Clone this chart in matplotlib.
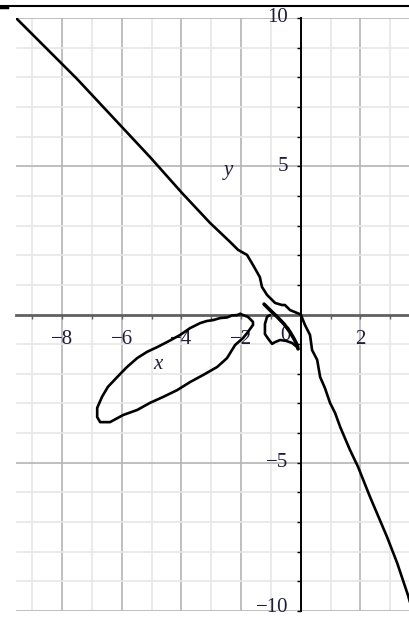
import matplotlib
matplotlib.use("Agg")
import matplotlib.pyplot as plt
from matplotlib.lines import Line2D

# ---- data ----
main_x = [-9.54, -7.5, -5.05, -3.98, -3.04, -2.37, -2.10, -1.80, -1.60, -1.37, -1.30,
          -1.13, -0.86, -0.63, -0.53, -0.36, -0.12, 0.0, 0.14, 0.31, 0.38, 0.55, 0.65,
          0.81, 0.98, 1.15, 1.32, 1.48, 1.65, 1.92, 2.32, 2.89, 3.23, 3.59, 3.70]
main_y = [10.0, 7.95, 5.31, 4.10, 3.09, 2.45, 2.18, 2.01, 1.67, 1.26, 0.93,
          0.66, 0.39, 0.32, 0.32, 0.15, 0.05, 0.0, -0.35, -0.69, -1.20, -1.53, -2.11,
          -2.48, -2.98, -3.32, -3.79, -4.17, -4.57, -5.14, -6.15, -7.50, -8.38, -9.46, -9.85]

loop_x = [-2.03, -2.13, -2.30, -2.47, -2.70, -2.94, -3.15, -3.37, -3.71, -4.04, -4.48,
          -4.81, -5.15, -5.48, -5.82, -6.15, -6.46, -6.66, -6.82, -6.82, -6.72, -6.39,
          -5.95, -5.48, -5.05, -4.61, -4.14, -3.71, -3.27, -2.80, -2.47, -2.20, -1.93,
          -1.77, -1.60, -1.60, -1.77, -2.03]
loop_y = [0.02, -0.02, -0.03, -0.10, -0.12, -0.19, -0.22, -0.29, -0.46, -0.69, -0.93,
          -1.10, -1.26, -1.47, -1.77, -2.11, -2.44, -2.78, -3.15, -3.46, -3.63, -3.63,
          -3.39, -3.22, -2.98, -2.78, -2.55, -2.28, -2.04, -1.77, -1.47, -1.03, -0.79,
          -0.59, -0.35, -0.25, -0.08, 0.02]

diag_x = [-1.23, -1.03, -0.79, -0.56, -0.36, -0.22, -0.12, -0.09]
diag_y = [0.35, 0.15, -0.08, -0.32, -0.59, -0.83, -1.03, -1.16]

small_x = [-1.03, -1.13, -1.20, -1.20, -1.06, -0.96, -0.86, -0.69, -0.49, -0.29, -0.12]
small_y = [-0.02, -0.08, -0.32, -0.66, -0.86, -0.99, -0.93, -0.86, -0.89, -0.96, -1.10]

x_tick_values = [-8, -6, -4, -2, 2]
y_tick_values = [10, 5, -5, -10]
x_grid = list(range(-9, 4))
y_grid = list(range(-10, 11))

W, H = 410, 618
fig = plt.figure(figsize=(W / 100, H / 100), dpi=100)
left, right, top, bottom = 16, 410, 18, 611
ax = fig.add_axes([left / W, (H - bottom) / H, (right - left) / W, (bottom - top) / H])
ax.set_xlim(-9.54, 3.66)
ax.set_ylim(-10, 10)
ax.set_facecolor("white")

# grid
for gx in x_grid:
    if gx == 0:
        continue
    col = "#b4b4b4" if gx % 2 == 0 else "#e6e6e6"
    ax.axvline(gx, color=col, lw=1.2, zorder=0)
for gy in y_grid:
    if gy == 0:
        continue
    col = "#b4b4b4" if gy % 5 == 0 else "#e6e6e6"
    ax.axhline(gy, color=col, lw=1.2, zorder=0)

# axes through the origin
for s in ["top", "right"]:
    ax.spines[s].set_visible(False)
ax.spines["left"].set_position(("data", 0))
ax.spines["bottom"].set_position(("data", 0))
ax.spines["left"].set_color("black")
ax.spines["left"].set_linewidth(1.4)
ax.spines["bottom"].set_color("#606060")
ax.spines["bottom"].set_linewidth(2.0)
ax.set_xticks(range(-9, 4))
ax.set_yticks(range(-10, 11))
ax.tick_params(axis="x", direction="out", length=3, width=1, color="#606060",
               labelbottom=False)
ax.tick_params(axis="y", direction="out", length=3, width=1, color="black",
               labelleft=False)

# curves
kw = dict(color="black", lw=1.9, solid_joinstyle="round", solid_capstyle="round",
          zorder=5, clip_on=True)
ax.plot(main_x, main_y, **kw)
ax.plot(loop_x, loop_y, **kw)
ax.plot(diag_x, diag_y, color="black", lw=2.6, solid_capstyle="round", zorder=5)
ax.plot(small_x, small_y, **kw)

# tick labels
tcol = "#1e1e3c"
font = dict(family="Liberation Serif", size=15, color=tcol)
for v in x_tick_values:
    ax.text(v, -0.86, f"\u2212{abs(v)}" if v < 0 else f"{v}", ha="center",
            va="center", **font)
ax.text(-0.5, -0.72, "0", ha="center", va="center", **font)
for v in y_tick_values:
    yy = v if v > -10 else -9.87
    ax.text(-0.42, yy, f"\u2212{abs(v)}" if v < 0 else f"{v}", ha="right",
            va="center", clip_on=False, **font)

ax.text(-4.78, -1.70, "x", ha="center", va="center", style="italic", **font)
ax.text(-2.44, 4.87, "y", ha="center", va="center", style="italic", **font)

# top border line
fig.add_artist(Line2D([0, 1], [1 - 6 / H, 1 - 6 / H], color="black", lw=1.5,
                      transform=fig.transFigure))
fig.add_artist(Line2D([0, 7 / W], [1 - 7 / H, 1 - 7 / H], color="black", lw=2.5,
                      transform=fig.transFigure))

fig.savefig("out.png", dpi=100, facecolor="white")
